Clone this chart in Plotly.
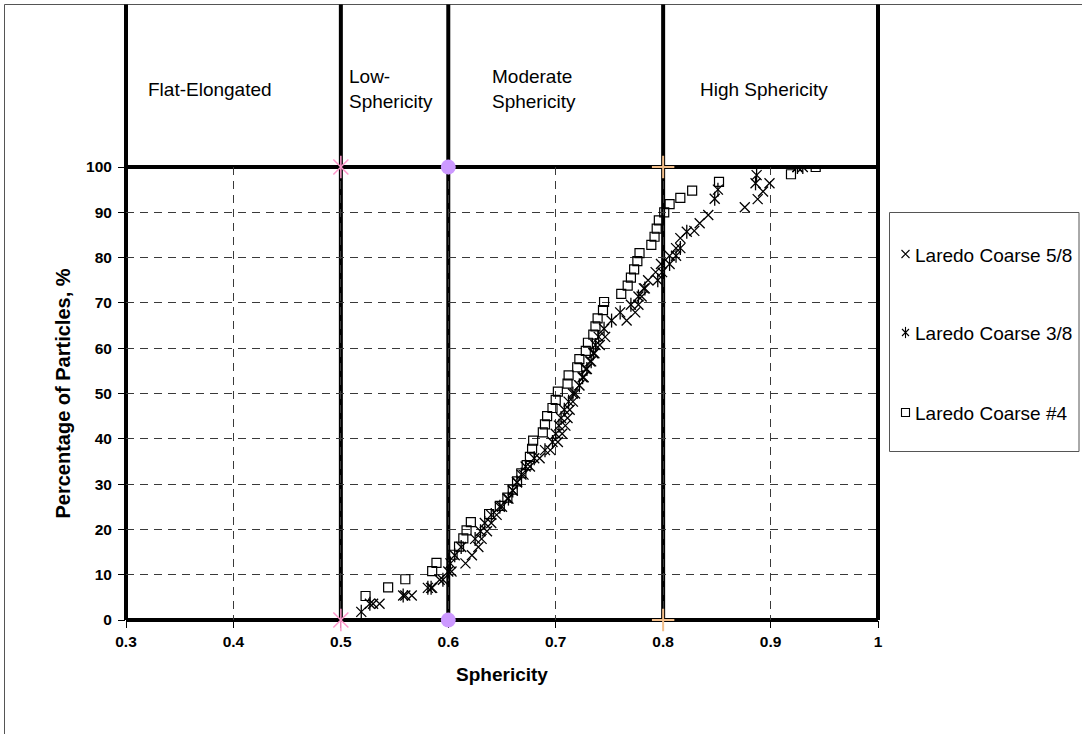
import plotly.graph_objects as go

# ---------------- data ----------------
x_ticks = [0.3, 0.4, 0.5, 0.6, 0.7, 0.8, 0.9, 1.0]
x_tick_text = ["0.3", "0.4", "0.5", "0.6", "0.7", "0.8", "0.9", "1"]
y_ticks = [0, 10, 20, 30, 40, 50, 60, 70, 80, 90, 100]

s58_name = "Laredo Coarse 5/8"
s58_x = [0.530, 0.536, 0.560, 0.566, 0.585, 0.592, 0.603, 0.616, 0.622, 0.628,
         0.631, 0.636, 0.640, 0.645, 0.650, 0.655, 0.660, 0.664, 0.670, 0.676,
         0.685, 0.695, 0.702, 0.706, 0.709, 0.711, 0.713, 0.716, 0.718, 0.722,
         0.726, 0.728, 0.732, 0.736, 0.741, 0.746, 0.766, 0.774, 0.777, 0.780,
         0.782, 0.786, 0.793, 0.798, 0.806, 0.812, 0.816, 0.829, 0.834, 0.842,
         0.876, 0.888, 0.893, 0.899, 0.925]
s58_y = [3.6, 3.6, 5.4, 5.4, 7.1, 8.9, 10.7, 12.5, 14.3, 16.1,
         17.9, 19.6, 21.4, 23.2, 25.0, 26.8, 28.6, 30.4, 32.1, 33.9,
         35.7, 37.5, 39.3, 41.1, 42.9, 44.6, 46.4, 48.2, 50.0, 51.8,
         53.6, 55.4, 57.1, 58.9, 60.7, 62.5, 66.1, 67.9, 69.6, 71.4,
         73.2, 75.0, 76.8, 78.6, 80.4, 82.1, 84.3, 85.9, 87.6, 89.4,
         91.1, 92.9, 94.6, 96.4, 100.0]

s38_name = "Laredo Coarse 3/8"
s38_x = [0.519, 0.527, 0.558, 0.581, 0.584, 0.595, 0.600, 0.602, 0.606, 0.612,
         0.625, 0.630, 0.634, 0.640, 0.648, 0.656, 0.660, 0.664, 0.668, 0.672,
         0.680, 0.690, 0.697, 0.700, 0.703, 0.705, 0.708, 0.712, 0.716, 0.722,
         0.725, 0.729, 0.733, 0.735, 0.737, 0.740, 0.745, 0.752, 0.760, 0.770,
         0.777, 0.783, 0.795, 0.799, 0.806, 0.812, 0.816, 0.822, 0.848, 0.851,
         0.886, 0.887, 0.925, 0.930]
s38_y = [1.8, 3.6, 5.4, 7.1, 7.1, 8.9, 10.7, 12.5, 14.3, 16.1,
         17.9, 19.6, 21.4, 23.2, 25.0, 26.8, 28.6, 30.4, 32.1, 33.9,
         35.7, 37.5, 39.3, 41.1, 42.9, 44.6, 46.4, 48.2, 50.0, 51.8,
         53.6, 55.4, 57.1, 58.9, 60.7, 62.5, 64.3, 66.1, 67.9, 69.6,
         71.4, 73.2, 75.0, 76.8, 78.6, 80.4, 82.1, 85.7, 93.0, 95.0,
         96.4, 98.2, 100.0, 100.0]

s4_name = "Laredo Coarse #4"
s4_x = [0.523, 0.544, 0.560, 0.585, 0.589, 0.604, 0.610, 0.614, 0.617, 0.621,
        0.638, 0.648, 0.655, 0.660, 0.664, 0.668, 0.673, 0.676, 0.678, 0.679,
        0.688, 0.690, 0.692, 0.697, 0.700, 0.702, 0.711, 0.712, 0.720, 0.722,
        0.728, 0.730, 0.735, 0.737, 0.739, 0.744, 0.745, 0.761, 0.767, 0.770,
        0.773, 0.776, 0.778, 0.789, 0.792, 0.794, 0.796, 0.801, 0.806, 0.816,
        0.827, 0.852, 0.919, 0.942]
s4_y = [5.3, 7.2, 9.0, 10.8, 12.6, 14.4, 16.2, 18.0, 19.8, 21.6,
        23.4, 25.2, 27.0, 28.8, 30.6, 32.4, 34.2, 36.0, 37.8, 39.6,
        41.4, 43.2, 45.0, 46.8, 48.6, 50.4, 52.2, 54.0, 55.8, 57.6,
        59.4, 61.2, 63.0, 64.8, 66.6, 68.4, 70.2, 72.0, 73.8, 75.6,
        77.4, 79.2, 81.0, 82.8, 84.6, 86.4, 88.2, 90.0, 91.8, 93.2,
        94.8, 96.7, 98.4, 100.0]

# class boundaries (sphericity) and their end markers
bound_pink_x = [0.5, 0.5]
bound_purple_x = [0.6, 0.6]
bound_orange_x = [0.8, 0.8]
bound_y = [0, 100]
frame_x = [0.3, 0.5, 0.6, 0.8, 1.0]

class_labels = ["Flat-Elongated", "Low-<br>Sphericity", "Moderate<br>Sphericity", "High Sphericity"]

# ---------------- layout geometry (pixels) ----------------
W, H = 1082, 734
L, T, B = 126, 167, 114
PLOT_R = 878                      # right edge of the data area
PAPER_W = W - L                   # paper spans from the left margin to the right edge
PH = H - T - B
XMIN, XMAX = 0.3, 1.0
YMIN, YMAX = 0, 100
X_DOMAIN_END = (PLOT_R - L) / PAPER_W


def px_x(p):
    return (p - L) / PAPER_W


def px_y(p):
    return (H - B - p) / PH


def dx_paper(v):
    return (v - XMIN) / (XMAX - XMIN) * X_DOMAIN_END


FONT = "Arial, 'Liberation Sans', sans-serif"
fig = go.Figure()

blk = dict(color="black", width=1.3)
fig.add_trace(go.Scatter(x=s58_x, y=s58_y, mode="markers", name=s58_name,
                         marker=dict(symbol="x-thin-open", size=10, line=blk, color="black")))
fig.add_trace(go.Scatter(x=s38_x, y=s38_y, mode="markers", name=s38_name,
                         marker=dict(symbol="x-thin-open", size=10, line=blk, color="black")))
fig.add_trace(go.Scatter(x=s38_x, y=s38_y, mode="markers", name=s38_name, hoverinfo="skip",
                         marker=dict(symbol="line-ns-open", size=10, line=blk, color="black")))
fig.add_trace(go.Scatter(x=s4_x, y=s4_y, mode="markers", name=s4_name,
                         marker=dict(symbol="square-open", size=9, line=dict(color="black", width=1.2), color="black")))

# boundary end markers
pink = "#FF99CC"
orange = "#F2BE8A"
fig.add_trace(go.Scatter(x=bound_pink_x, y=bound_y, mode="markers", cliponaxis=False,
                         marker=dict(symbol="x-thin-open", size=15, color=pink, line=dict(color=pink, width=1.5))))
fig.add_trace(go.Scatter(x=bound_pink_x, y=bound_y, mode="markers", cliponaxis=False,
                         marker=dict(symbol="line-ns-open", size=16, color=pink, line=dict(color=pink, width=1.5))))
fig.add_trace(go.Scatter(x=bound_purple_x, y=bound_y, mode="markers", cliponaxis=False,
                         marker=dict(symbol="circle", size=15, color="#CC99FF", line=dict(width=0))))
fig.add_trace(go.Scatter(x=bound_orange_x, y=bound_y, mode="markers", cliponaxis=False,
                         marker=dict(symbol="cross-thin-open", size=16, color=orange, line=dict(color=orange, width=2))))

# manual legend symbols on a full-paper helper axis measured in pixels
leg_sym_x = 905.5
leg_rows = [254, 332.5, 412.5]
leg_defs = [
    [("x-thin-open", 8)],
    [("x-thin-open", 7), ("line-ns-open", 8)],
    [("square-open", 8)],
]
for row, defs in zip(leg_rows, leg_defs):
    for sym, sz in defs:
        fig.add_trace(go.Scatter(x=[leg_sym_x], y=[row], xaxis="x2", yaxis="y2", mode="markers",
                                 hoverinfo="skip",
                                 marker=dict(symbol=sym, size=sz, color="black", line=dict(color="black", width=1.1))))

shapes = []
# outer chart frame
shapes.append(dict(type="rect", xref="paper", yref="paper", x0=px_x(4.5), x1=px_x(1095), y0=px_y(745), y1=px_y(4.5),
                   line=dict(color="#555555", width=1), layer="below"))
thick = dict(color="black", width=4)
for yv in (0, 1):
    shapes.append(dict(type="line", xref="paper", yref="paper", x0=0, x1=X_DOMAIN_END, y0=yv, y1=yv,
                       line=thick, layer="below"))
top = px_y(4.5)
for v in frame_x:
    shapes.append(dict(type="line", xref="paper", yref="paper", x0=dx_paper(v), x1=dx_paper(v), y0=0, y1=top,
                       line=thick, layer="below"))
# legend box
shapes.append(dict(type="rect", xref="paper", yref="paper", x0=px_x(889.5), x1=px_x(1079), y0=px_y(451.5),
                   y1=px_y(212.5), line=dict(color="#555555", width=1), layer="below"))

annotations = []
lab_font = dict(family=FONT, size=19, color="black")
label_left_px = [146, 347, 490, 698]
for txt, lp in zip(class_labels, label_left_px):
    annotations.append(dict(text=txt, xref="paper", yref="paper", x=px_x(lp), y=px_y(89),
                            xanchor="left", yanchor="middle", align="left", showarrow=False, font=lab_font))
for txt, yy in zip([s58_name, s38_name, s4_name], leg_rows):
    annotations.append(dict(text=txt, xref="paper", yref="paper", x=px_x(913), y=px_y(yy + 1),
                            xanchor="left", yanchor="middle", align="left", showarrow=False, font=lab_font))

grid = dict(showgrid=True, gridcolor="#3a3a3a", gridwidth=1, griddash="8px,6px", zeroline=False, showline=False,
            ticks="outside", ticklen=7, tickcolor="black", tickwidth=1, layer="below traces", automargin=False)

fig.update_layout(
    width=W, height=H,
    margin=dict(l=L, r=0, t=T, b=B, pad=0),
    paper_bgcolor="white", plot_bgcolor="rgba(0,0,0,0)",
    showlegend=False,
    shapes=shapes, annotations=annotations,
    font=dict(family=FONT, color="black"),
    xaxis=dict(domain=[0, X_DOMAIN_END], range=[XMIN, XMAX], tickvals=x_ticks, ticktext=x_tick_text,
               tickfont=dict(family=FONT, size=15.5, weight="bold"),
               title=dict(text="Sphericity", font=dict(family=FONT, size=19, weight="bold"), standoff=19),
               **grid),
    yaxis=dict(domain=[0, 1], range=[YMIN, YMAX], tickvals=y_ticks,
               tickfont=dict(family=FONT, size=15.5, weight="bold"), ticklabelstandoff=3,
               title=dict(text="Percentage of Particles, %", font=dict(family=FONT, size=20, weight="bold"),
                          standoff=10),
               **grid),
    xaxis2=dict(domain=[0, 1], range=[L, W], anchor="y2", visible=False, fixedrange=True, showgrid=False),
    yaxis2=dict(domain=[0, 1], range=[H - B, T], anchor="x2", visible=False, fixedrange=True, showgrid=False),
)

fig.write_html("out.html")
